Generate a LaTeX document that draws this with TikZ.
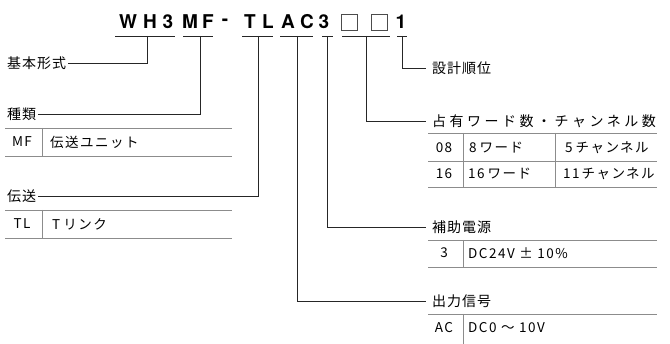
\documentclass[tikz,border=0pt]{standalone}
\usepackage{fontspec}
\setmainfont{TeX Gyre Heros}
\newfontfamily\jpsp[LetterSpace=7]{Noto Sans CJK JP}
\newfontfamily\jpcell[LetterSpace=11]{Noto Sans CJK JP}
\newfontfamily\jpwide[LetterSpace=25]{Noto Sans CJK JP}

\begin{document}
\begin{tikzpicture}[x=1pt,y=-1pt,
	lead/.style={black!85,line width=.6pt},
	rule/.style={black!45,line width=.6pt},
	lbl/.style={inner sep=2pt,font=\jpsp\fontsize{14}{14}\selectfont},
	cell/.style={inner sep=0pt,font=\jpcell\fontsize{13.5}{14}\selectfont},
	chr/.style={inner sep=0pt,font=\bfseries\fontsize{19}{19}\selectfont},
	slot/.style={draw=black!70,line width=.8pt,minimum size=16pt,inner sep=0pt}]
	\useasboundingbox (0,0) rectangle (670,344);

	% type code
	\node[chr] (cW) at (128,22) {W};
	\node[chr] (cH) at (150,22) {H};
	\node[chr] (c3a) at (168,22) {3};
	\node[chr] (cM) at (190,22) {M};
	\node[chr] (cF) at (208,22) {F};
	\node[chr] (cdash) at (225,22) {-};
	\node[chr] (cT) at (250,22) {T};
	\node[chr] (cL) at (268,22) {L};
	\node[chr] (cA) at (288,22) {A};
	\node[chr] (cC) at (307,22) {C};
	\node[chr] (c3b) at (324,22) {3};
	\node[slot] (box1) at (349,22) {};
	\node[slot] (box2) at (379,22) {};
	\node[chr] (c1) at (401,22) {1};

	\draw[lead] (115,36)--(175,36);
	\draw[lead] (183,36)--(213,36);
	\draw[lead] (242,36)--(273,36);
	\draw[lead] (280,36)--(313,36);
	\draw[lead] (322,36)--(333,36);
	\draw[lead] (342,36)--(390,36);
	\draw[lead] (397,36)--(407,36);

	\coordinate (uWH) at (147,36);
	\coordinate (uMF) at (200,36);
	\coordinate (uTL) at (258,36);
	\coordinate (uAC) at (297,36);
	\coordinate (uPW) at (327,36);
	\coordinate (uCH) at (366,36);
	\coordinate (uRV) at (402,36);

	% left side
	\node[lbl,anchor=west] (kihon) at (5,63) {基本形式};
	\draw[lead] (uWH) |- (kihon.east);

	\node[lbl,anchor=west] (shurui) at (5,114) {種類};
	\draw[lead] (uMF) |- (shurui.east);
	\draw[rule] (5,128)--(232,128);
	\draw[rule] (5,156)--(232,156);
	\draw[rule] (42,128)--(42,156);
	\node[cell] (mf) at (22,142) {MF};
	\node[cell,anchor=west] (mfunit) at (50,142) {伝送ユニット};

	\node[lbl,anchor=west] (densou) at (5,196) {伝送};
	\draw[lead] (uTL) |- (densou.east);
	\draw[rule] (5,210)--(232,210);
	\draw[rule] (5,238)--(232,238);
	\draw[rule] (42,210)--(42,238);
	\node[cell] (tl) at (22,224) {TL};
	\node[cell,anchor=west] (tlink) at (52,224) {T\hspace{3pt}リンク};

	% right side
	\node[lbl,anchor=west] (sekkei) at (430,68) {設計順位};
	\draw[lead,shorten >=4pt] (uRV) |- (sekkei.west);

	\node[lbl,anchor=west,font=\jpwide\fontsize{14}{14}\selectfont] (senyu) at (430,121) {占有ワード数・チャンネル数};
	\draw[lead,shorten >=4pt] (uCH) |- (senyu.west);
	\draw[rule] (428,133)--(657,133);
	\draw[rule] (428,161)--(657,161);
	\draw[rule] (428,187)--(657,187);
	\draw[rule] (463,133)--(463,187);
	\draw[rule] (555,133)--(555,187);
	\node[cell] (c08) at (444,148) {08};
	\node[cell,anchor=west] (w8) at (469,148) {8\hspace{3pt}ワード};
	\node[cell,anchor=west] (ch5) at (565,148) {5\hspace{3pt}チャンネル};
	\node[cell] (c16) at (444,174) {16};
	\node[cell,anchor=west] (w16) at (468,174) {16\hspace{3pt}ワード};
	\node[cell,anchor=west] (ch11) at (563,174) {11\hspace{2pt}チャンネル};

	\node[lbl,anchor=west] (hojo) at (430,227) {補助電源};
	\draw[lead,shorten >=4pt] (uPW) |- (hojo.west);
	\draw[rule] (428,240)--(657,240);
	\draw[rule] (428,267)--(657,267);
	\draw[rule] (463,240)--(463,267);
	\node[cell] (p3) at (444,253) {3};
	\node[cell,anchor=west] (dc24) at (468,253) {DC24V ± 10\%};

	\node[lbl,anchor=west] (shutsu) at (430,301) {出力信号};
	\draw[lead,shorten >=4pt] (uAC) |- (shutsu.west);
	\draw[rule] (428,314)--(657,314);
	\draw[rule] (463,314)--(463,344);
	\node[cell] (ac) at (444,328) {AC};
	\node[cell,anchor=west] (dc0) at (468,328) {DC0 ～ 10V};
\end{tikzpicture}
\end{document}
